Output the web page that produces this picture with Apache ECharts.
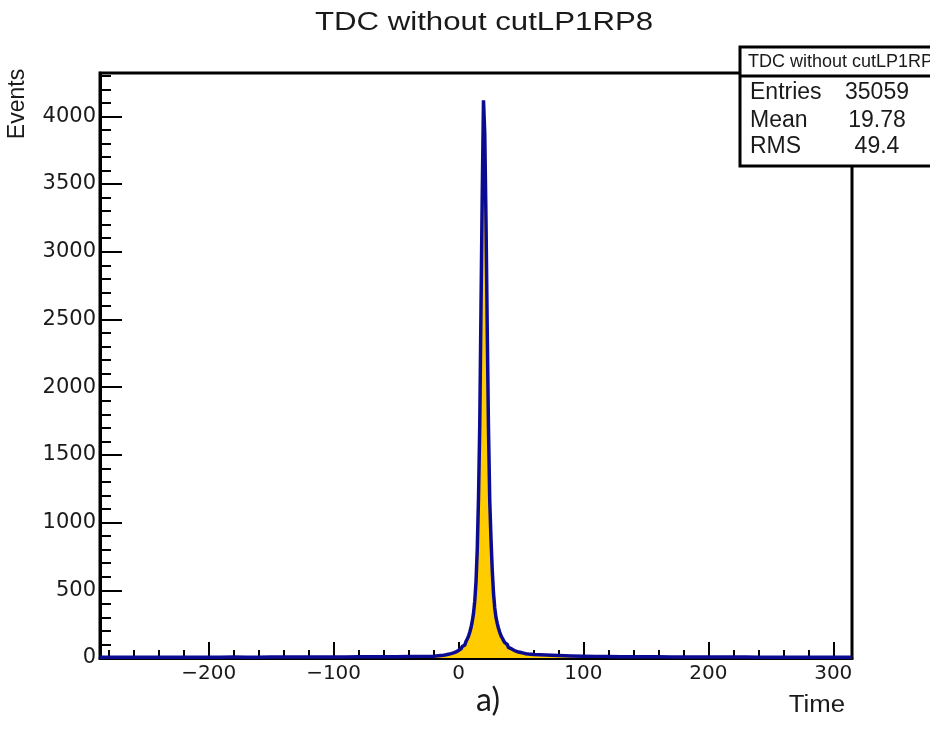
<!DOCTYPE html>
<html><head><meta charset="utf-8">
<script src="https://cdn.jsdelivr.net/npm/echarts@6/dist/echarts.min.js"></script>
<style>html,body{margin:0;padding:0;background:#fff}#c{width:930px;height:730px}</style>
</head><body><div id="c"></div>
<script>
const chartTitle = 'TDC without cutLP1RP8';
const xAxisTitle = 'Time';
const yAxisTitle = 'Events';
const panelLabel = 'a)';
const xMin = -287, xMax = 315;
const yMin = 0, yMax = 4320;
const xMajorTicks = [-200, -100, 0, 100, 200, 300];
const xMinorTicks = [-280, -260, -240, -220, -180, -160, -140, -120, -80, -60, -40, -20, 20, 40, 60, 80, 120, 140, 160, 180, 220, 240, 260, 280];
const yMajorTicks = [0, 500, 1000, 1500, 2000, 2500, 3000, 3500, 4000];
const yMinorTicks = [100, 200, 300, 400, 600, 700, 800, 900, 1100, 1200, 1300, 1400, 1600, 1700, 1800, 1900, 2100, 2200, 2300, 2400, 2600, 2700, 2800, 2900, 3100, 3200, 3300, 3400, 3600, 3700, 3800, 3900, 4100, 4200, 4300];

// histogram bins: lower edges and counts (last bin ends at xMax)
const binLowEdges = [
  -287, -280, -270, -260, -250, -240, -230, -220, -210, -200, -190, -180, -170, -160, -150, -140, -130, -120, -110, -100, -90, -80, -70, -60, -50, -40, -30,
  -20, -19, -18, -17, -16, -15, -14, -13, -12, -11, -10, -9, -8, -7, -6, -5, -4, -3, -2, -1,
  0, 1, 2, 3, 4, 5, 6, 7, 8, 9, 10, 11, 12, 13, 14, 15, 16, 17, 18, 19,
  20, 21, 22, 23, 24, 25, 26, 27, 28, 29, 30, 31, 32, 33, 34, 35, 36, 37, 38, 39,
  40, 41, 42, 43, 44, 45, 46, 47, 48, 49, 50, 51, 52, 53, 54, 55, 56, 57, 58, 59,
  60, 70, 80, 90, 100, 110, 120, 130, 140, 150, 160, 170, 180, 190, 200, 210, 220, 230, 240, 250, 260, 270, 280, 290, 300, 310
];
const binCounts = [
  5, 6, 5, 6, 5, 6, 6, 5, 6, 6, 7, 6, 6, 7, 7, 7, 8, 7, 8, 8, 9, 9, 10, 10, 11, 12, 13,
  14, 15, 16, 17, 18, 19, 20, 21, 23, 24, 26, 28, 30, 32, 35, 38, 41, 45, 50, 55,
  61, 68, 76, 85, 96, 108, 122, 140, 162, 190, 225, 270, 330, 420, 560, 800, 1180, 1720, 2590, 3430,
  4118, 3874, 3231, 2418, 1693, 1161, 880, 650, 480, 370, 300, 255, 220, 190, 165, 148, 130, 114, 100, 88,
  78, 70, 64, 59, 54, 50, 47, 44, 42, 40, 38, 36, 34, 32, 31, 29, 28, 27, 26, 25,
  23, 18, 15, 13, 12, 11, 10, 10, 9, 9, 8, 8, 8, 7, 7, 7, 7, 6, 6, 6, 6, 6, 5, 5, 5, 5
];
const statsHeader = 'TDC without cutLP1RP8';
const statsLabels = ['Entries', 'Mean', 'RMS'];
const statsValues = ['35059', '19.78', '49.4'];

const histData = binLowEdges.map((x, i) => [x, binCounts[i]]);
histData.push([xMax, binCounts[binCounts.length - 1]]);

const chart = echarts.init(document.getElementById('c'), null, {renderer: 'canvas'});
const tickFont = 'DejaVu Sans';
const txtColor = '#1a1a1a';
const minusFmt = v => String(v).replace('-', '\u2212');
const plainFmt = v => String(v);

function txt(text, x, y, font, opts) {
  opts = opts || {};
  return {
    type: 'text', x: x, y: y, z: 100,
    scaleX: opts.scaleX || 1, scaleY: opts.scaleY || 1,
    rotation: opts.rotation || 0,
    style: {
      text: text, font: font, fill: opts.fill || txtColor,
      textAlign: opts.align || 'left', textVerticalAlign: 'middle',
      align: opts.align || 'left', verticalAlign: 'middle'
    }
  };
}

const graphics = [
  txt(chartTitle, 484, 23, '26px "Liberation Sans"', {align: 'center', scaleX: 1.2}),
  txt(yAxisTitle, 18, 104, '23px "Liberation Sans"', {align: 'center', rotation: Math.PI / 2}),
  txt(xAxisTitle, 845, 706, '23px "Liberation Sans"', {align: 'right', scaleX: 1.12}),
  txt(panelLabel, 488, 701, '32px Lato', {align: 'center'}),
  {type: 'rect', z: 90, shape: {x: 740, y: 47, width: 220, height: 119},
   style: {fill: '#fff', stroke: '#000', lineWidth: 3}},
  {type: 'line', z: 91, shape: {x1: 740, y1: 76, x2: 940, y2: 76},
   style: {stroke: '#000', lineWidth: 3}},
  txt(statsHeader, 748, 62, '18px "Liberation Sans"', {})
];
const rowY = [93, 121, 147];
statsLabels.forEach((l, i) => {
  graphics.push(txt(l, 750, rowY[i], '23px "Liberation Sans"', {}));
  graphics.push(txt(statsValues[i], 877, rowY[i], '23px "Liberation Sans"', {align: 'center'}));
});

const option = {
  animation: false,
  backgroundColor: '#fff',
  grid: {left: 100, right: 78, top: 73, bottom: 72, show: true, borderColor: '#000', borderWidth: 3, backgroundColor: 'transparent'},
  xAxis: [
    {type: 'value', min: xMin, max: xMax, position: 'bottom',
     axisLine: {show: true, onZero: false, lineStyle: {color: '#000', width: 3}},
     axisTick: {show: true, inside: true, length: 16, customValues: xMajorTicks, lineStyle: {color: '#000', width: 2}},
     axisLabel: {show: true, customValues: xMajorTicks, formatter: minusFmt, fontFamily: tickFont, fontSize: 20, color: txtColor, margin: 6},
     splitLine: {show: false}},
    {type: 'value', min: xMin, max: xMax, position: 'bottom',
     axisLine: {show: false, onZero: false},
     axisTick: {show: true, inside: true, length: 8, customValues: xMinorTicks, lineStyle: {color: '#000', width: 2}},
     axisLabel: {show: false}, splitLine: {show: false}}
  ],
  yAxis: [
    {type: 'value', min: yMin, max: yMax, position: 'left',
     axisLine: {show: true, onZero: false, lineStyle: {color: '#000', width: 3}},
     axisTick: {show: true, inside: true, length: 22, customValues: yMajorTicks, lineStyle: {color: '#000', width: 2}},
     axisLabel: {show: true, customValues: yMajorTicks, formatter: plainFmt, fontFamily: tickFont, fontSize: 21, color: txtColor, margin: 4},
     splitLine: {show: false}},
    {type: 'value', min: yMin, max: yMax, position: 'left',
     axisLine: {show: false, onZero: false},
     axisTick: {show: true, inside: true, length: 11, customValues: yMinorTicks, lineStyle: {color: '#000', width: 2}},
     axisLabel: {show: false}, splitLine: {show: false}}
  ],
  series: [{
    type: 'line', xAxisIndex: 0, yAxisIndex: 0, data: histData, step: 'end',
    symbol: 'none', clip: true,
    lineStyle: {color: '#0b0b92', width: 3.5, join: 'miter', miterLimit: 4},
    areaStyle: {color: '#ffcc00', opacity: 1},
    z: 2
  }],
  graphic: graphics
};
chart.setOption(option);
</script></body></html>
